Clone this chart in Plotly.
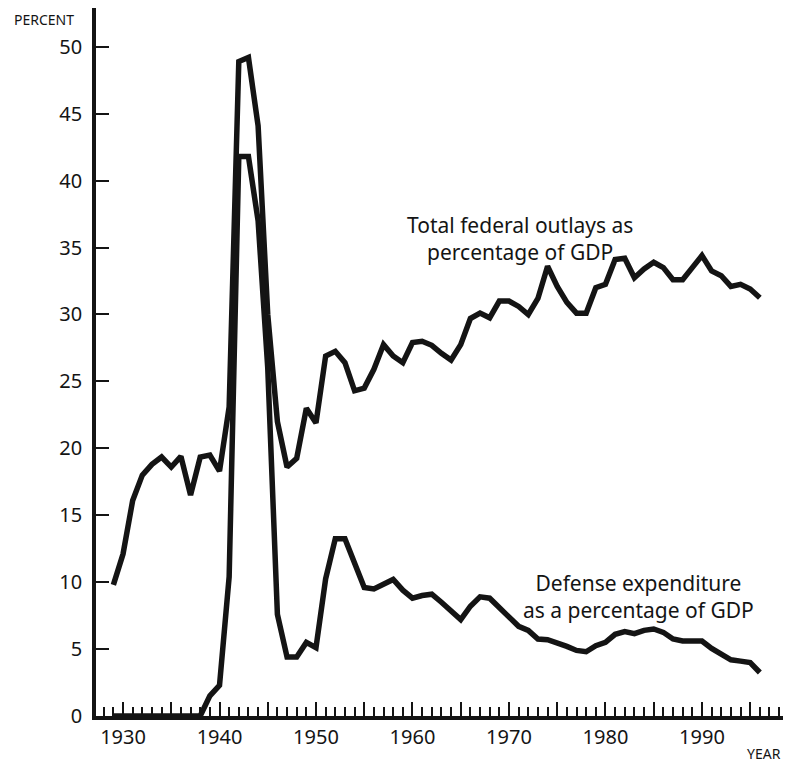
import plotly.graph_objs as go

# data (percent of GDP)
years = list(range(1929, 1997))

total_outlays = [
    9.8,                                                   # 1929
    12.1, 16.1, 18.0, 18.8, 19.35, 18.6, 19.4, 16.5, 19.35, 19.5,   # 1930s
    18.3, 23.1, 48.9, 49.2, 44.1, 30.0, 22.0, 18.6, 19.25, 23.0,    # 1940s
    21.9, 26.9, 27.25, 26.4, 24.3, 24.5, 25.9, 27.75, 26.9, 26.4,   # 1950s
    27.9, 28.0, 27.7, 27.1, 26.6, 27.75, 29.7, 30.1, 29.75, 31.0,   # 1960s
    31.0, 30.6, 30.0, 31.2, 33.6, 32.1, 30.9, 30.1, 30.1, 32.0,     # 1970s
    32.25, 34.1, 34.2, 32.75, 33.4, 33.9, 33.5, 32.6, 32.6, 33.5,   # 1980s
    34.4, 33.25, 32.9, 32.1, 32.25, 31.9, 31.25,                    # 1990s
]

defense = [
    0.0,                                                   # 1929
    0.0, 0.0, 0.0, 0.0, 0.0, 0.0, 0.0, 0.0, 0.0, 1.5,      # 1930s
    2.3, 10.4, 41.8, 41.8, 37.0, 26.0, 7.6, 4.4, 4.4, 5.5,  # 1940s
    5.1, 10.25, 13.25, 13.25, 11.4, 9.6, 9.5, 9.9, 10.2, 9.4,  # 1950s
    8.8, 9.0, 9.1, 8.5, 7.8, 7.2, 8.2, 8.9, 8.8, 8.1,      # 1960s
    7.5, 6.7, 6.4, 5.75, 5.7, 5.5, 5.2, 4.9, 4.8, 5.25,    # 1970s
    5.5, 6.1, 6.3, 6.15, 6.4, 6.5, 6.25, 5.75, 5.6, 5.6,   # 1980s
    5.6, 5.05, 4.6, 4.2, 4.1, 4.0, 3.25,                   # 1990s
]

x_major = list(range(1930, 2000, 5))
x_labels = [str(y) if y % 10 == 0 else '' for y in x_major]
y_ticks = list(range(0, 55, 5))
y_labels = [str(v) for v in y_ticks]

total_label = 'Total federal outlays as<br>percentage of GDP'
defense_label = 'Defense expenditure<br>as a percentage of GDP'

FONT = 'Noto Sans'
INK = '#141414'

fig = go.Figure()
for series in (total_outlays, defense):
    fig.add_trace(go.Scatter(x=years, y=series, mode='lines',
                             line=dict(color=INK, width=5.5),
                             showlegend=False, hoverinfo='skip'))

# the page body adds an 8px offset; margins are shifted to compensate
fig.update_layout(
    width=791, height=765, autosize=False,
    margin=dict(l=88, r=16, t=0, b=57),
    paper_bgcolor='white', plot_bgcolor='white',
    font=dict(family=FONT, color=INK),
)

fig.update_xaxes(
    range=[1927.2, 1998.4], showgrid=False, zeroline=False,
    showline=True, linewidth=3.5, linecolor=INK,
    tickmode='array', tickvals=x_major, ticktext=x_labels,
    ticks='inside', ticklen=14, tickwidth=1.5, tickcolor=INK,
    tickfont=dict(size=20, family=FONT, color=INK),
    minor=dict(tickmode='linear', tick0=1930, dtick=1, ticks='inside',
               ticklen=9, tickwidth=1.5, tickcolor=INK),
)
fig.update_yaxes(
    range=[0, 52.9], showgrid=False, zeroline=False,
    showline=True, linewidth=3.5, linecolor=INK,
    tickmode='array', tickvals=y_ticks, ticktext=y_labels,
    ticks='inside', ticklen=13, tickwidth=1.5, tickcolor=INK,
    tickfont=dict(size=20, family=FONT, color=INK),
    ticklabelstandoff=6,
)

# series labels
fig.add_annotation(x=1971.1, y=35.7, xref='x', yref='y', text=total_label,
                   showarrow=False, align='center',
                   font=dict(size=21, family=FONT, color=INK))
fig.add_annotation(x=1983.4, y=8.9, xref='x', yref='y', text=defense_label,
                   showarrow=False, align='center',
                   font=dict(size=21, family=FONT, color=INK))

# axis titles
fig.add_annotation(x=-0.0757, y=1.0, xref='paper', yref='paper', text='PERCENT',
                   xanchor='center', yanchor='top', showarrow=False,
                   font=dict(size=14, family=FONT, color=INK))
fig.add_annotation(x=0.972, y=-0.0692, xref='paper', yref='paper', text='YEAR',
                   xanchor='center', yanchor='bottom', showarrow=False,
                   font=dict(size=14, family=FONT, color=INK))

fig.write_html("out.html")
